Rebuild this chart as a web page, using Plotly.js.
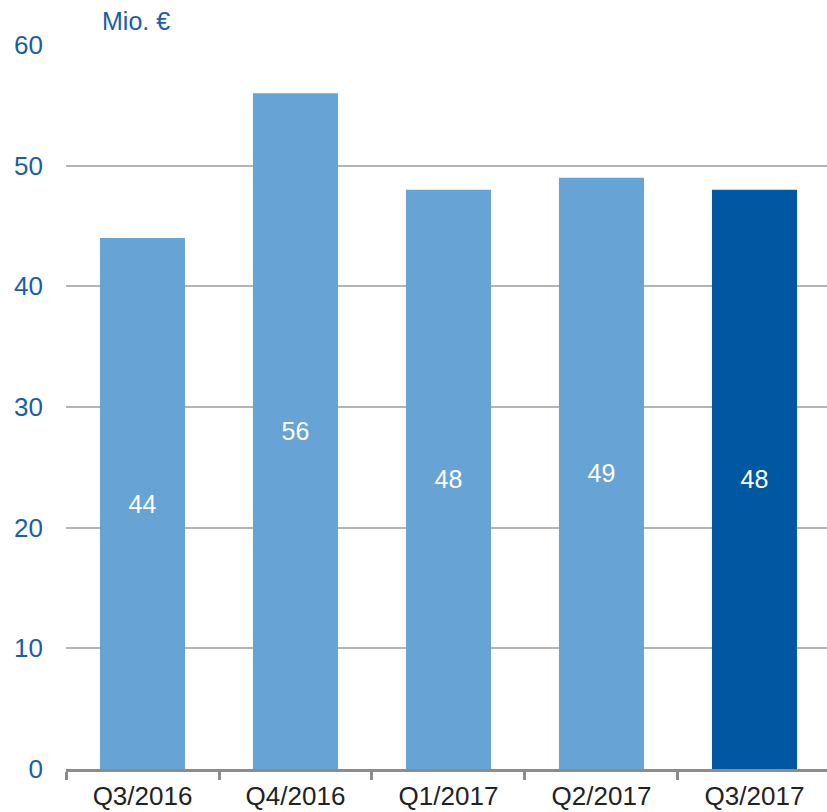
<!DOCTYPE html>
<html>
<head>
<meta charset="utf-8">
<script src="https://cdn.plot.ly/plotly-3.0.1.min.js"></script>
<style>html,body{margin:0;padding:0;background:#fff;}#chart{width:827px;height:812px;}</style>
</head>
<body>
<div id="chart"></div>
<script>
const categories = ["Q3/2016", "Q4/2016", "Q1/2017", "Q2/2017", "Q3/2017"];
const values = [44, 56, 48, 49, 48];
const barColors = ["#68a3d5", "#68a3d5", "#68a3d5", "#68a3d5", "#0057a2"];
const yTicks = [0, 10, 20, 30, 40, 50, 60];
const unitLabel = "Mio. €";

const trace = {
  type: "bar",
  x: categories,
  y: values,
  marker: {color: barColors, line: {width: 0}},
  text: values.map(String),
  textposition: "inside",
  insidetextanchor: "middle",
  textangle: 0,
  textfont: {family: "Liberation Sans, Arial, sans-serif", size: 25, color: "#ffffff"},
  hoverinfo: "none",
  cliponaxis: false
};

const layout = {
  width: 827,
  height: 812,
  margin: {l: 66, r: 0, t: 45, b: 43},
  paper_bgcolor: "#ffffff",
  plot_bgcolor: "#ffffff",
  showlegend: false,
  bargap: 0.444,
  font: {family: "Liberation Sans, Arial, sans-serif"},
  xaxis: {
    type: "category",
    range: [-0.5, 4.474],
    tickson: "boundaries",
    ticks: "outside",
    ticklen: 8,
    tickwidth: 3,
    tickcolor: "#8c8c8c",
    showline: true,
    linecolor: "#8c8c8c",
    linewidth: 3,
    showgrid: false,
    zeroline: false,
    automargin: false,
    ticklabelstandoff: 2,
    tickfont: {family: "Liberation Sans, Arial, sans-serif", size: 26, color: "#222222"}
  },
  yaxis: {
    range: [0, 60],
    tickvals: yTicks,
    ticktext: yTicks.map(String),
    showgrid: true,
    gridcolor: "#b4b4b4",
    gridwidth: 2,
    zeroline: false,
    showline: false,
    ticks: "",
    ticklabelstandoff: 22,
    automargin: false,
    tickfont: {family: "Liberation Sans, Arial, sans-serif", size: 26, color: "#1a5ea8"}
  },
  annotations: [{
    text: unitLabel,
    xref: "paper", yref: "paper",
    x: 34 / 761, y: 1 + 24 / 724,
    xanchor: "left", yanchor: "middle",
    showarrow: false,
    font: {family: "Liberation Sans, Arial, sans-serif", size: 25, color: "#1a5ea8"}
  }]
};

Plotly.newPlot("chart", [trace], layout, {displayModeBar: false, staticPlot: true});
</script>
</body>
</html>
